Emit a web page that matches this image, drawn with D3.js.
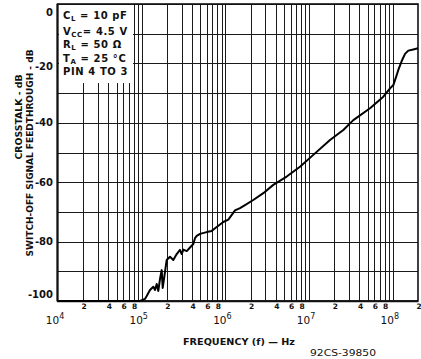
<!DOCTYPE html>
<html><head><meta charset="utf-8">
<script src="https://cdn.jsdelivr.net/npm/d3@7"></script>
<style>
html,body{margin:0;padding:0;background:#fff;}
svg{display:block;}
text{font-family:"DejaVu Sans",sans-serif;fill:#111;}
</style></head>
<body>
<script>
// ---- data ----
const freqHz = [1e4, 9.55e4, 1.094e5, 1.148e5, 1.256e5, 1.377e5, 1.443e5, 1.511e5, 1.579e5, 1.654e5, 1.733e5, 1.782e5, 1.898e5, 1.989e5, 2.178e5, 2.386e5, 2.62e5, 2.868e5, 3.007e5, 3.141e5, 3.449e5, 3.778e5, 4.139e5, 4.337e5, 4.541e5, 4.977e5, 5.984e5, 6.861e5, 7.871e5, 9.441e5, 1.084e6, 1.303e6, 1.494e6, 1.714e6, 2.153e6, 2.837e6, 3.734e6, 5.397e6, 7.781e6, 1.122e7, 1.778e7, 2.564e7, 3.378e7, 5.343e7, 7.709e7, 9.267e7, 1.015e8, 1.114e8, 1.164e8, 1.277e8, 1.4e8, 1.531e8, 1.758e8, 2.0e8];
const feedthroughDb = [-100, -100, -99.3, -98.3, -96.3, -95.2, -96.3, -94.3, -96.6, -92.6, -89.6, -95.6, -90.2, -86.2, -85.1, -86.2, -84.2, -82.8, -84.2, -82.7, -83.2, -82.0, -80.8, -78.8, -78.1, -77.4, -76.8, -76.4, -75.1, -73.4, -72.6, -69.5, -68.7, -67.7, -66.0, -63.7, -60.9, -58.1, -54.8, -50.8, -45.8, -42.4, -39.1, -35.1, -31.2, -28.4, -27.3, -23.9, -22.2, -19.2, -16.8, -15.7, -15.3, -14.9];
const yTickValues = [0, -20, -40, -60, -80, -100];
const yGridValues = [0, -10, -20, -30, -40, -50, -60, -70, -80, -90, -100];
const decadeExponents = [4, 5, 6, 7, 8];
const minorMultipliers = [2, 3, 4, 5, 6, 7, 8, 9];
const minorLabelMultipliers = [2, 4, 6, 8];
const legendLines = [
  [["C", 0], ["L", 1], [" = 10 pF", 0]],
  [["V", 0], ["CC", 1], ["= 4.5 V", 0]],
  [["R", 0], ["L", 1], ["  = 50 Ω", 0]],
  [["T", 0], ["A", 1], ["  = 25 °C", 0]],
  [["PIN 4 TO 3", 0]]
];
const yTitle1 = "CROSSTALK - dB";
const yTitle2 = "SWITCH-OFF SIGNAL FEEDTHROUGH - dB";
const xTitle = "FREQUENCY (f) — Hz";
const figCode = "92CS-39850";

// ---- layout ----
const W = 421, H = 359;
const L = 58, R = 418, T = 4, B = 301;
const x = d3.scaleLog().domain([1e4, 2e8]).range([L, R]);
const y = d3.scaleLinear().domain([0, -100]).range([T, B]);

const svg = d3.select("body").append("svg").attr("width", W).attr("height", H);
svg.append("rect").attr("width", W).attr("height", H).attr("fill", "#fff");

// vertical grid lines
const vLines = [];
decadeExponents.forEach(e => {
  const base = Math.pow(10, e);
  if (e > 4) vLines.push(base);
  if (e < 8) minorMultipliers.forEach(m => vLines.push(m * base));
});
const g = svg.append("g").attr("shape-rendering", "crispEdges");
g.selectAll("line.v").data(vLines).join("line")
  .attr("x1", d => Math.round(x(d)) + 0.5).attr("x2", d => Math.round(x(d)) + 0.5)
  .attr("y1", T).attr("y2", B)
  .attr("stroke", "#1a1a1a").attr("stroke-width", 1);
g.selectAll("line.h").data(yGridValues).join("line")
  .attr("x1", L).attr("x2", R)
  .attr("y1", d => Math.round(y(d)) + 0.5).attr("y2", d => Math.round(y(d)) + 0.5)
  .attr("stroke", "#1a1a1a").attr("stroke-width", 1);

// legend box (white panel over grid)
svg.append("rect").attr("x", L + 1).attr("y", T + 1).attr("width", 74).attr("height", 78).attr("fill", "#fff");

// frame
svg.append("rect").attr("x", L - 0.5).attr("y", T).attr("width", R - L + 0.5).attr("height", B - T)
  .attr("fill", "none").attr("stroke", "#111").attr("stroke-width", 1.6);
svg.append("line").attr("x1", L - 1).attr("x2", R).attr("y1", B + 0.3).attr("y2", B + 0.3)
  .attr("stroke", "#111").attr("stroke-width", 2);
svg.append("line").attr("x1", L - 0.5).attr("x2", L - 0.5).attr("y1", T).attr("y2", B)
  .attr("stroke", "#111").attr("stroke-width", 2);

// curve
const pts = freqHz.map((f, i) => [f, feedthroughDb[i]]);
svg.append("path").datum(pts)
  .attr("d", d3.line().x(d => x(d[0])).y(d => y(d[1])).curve(d3.curveLinear))
  .attr("fill", "none").attr("stroke", "#000").attr("stroke-width", 2).attr("stroke-linejoin", "round");

// y tick labels
const yOff = {"0": 8, "-20": 3, "-100": -7};
svg.selectAll("text.yt").data(yTickValues).join("text")
  .attr("x", 53).attr("y", d => y(d) + (yOff[String(d)] || 0))
  .attr("dy", "0.36em").attr("text-anchor", "end")
  .attr("font-size", 10).attr("font-weight", "bold").text(d => d === 0 ? "0" : "-" + Math.abs(d));

// x minor labels
const minorTicks = [];
decadeExponents.forEach(e => {
  if (e < 8) minorLabelMultipliers.forEach(m => minorTicks.push({v: m * Math.pow(10, e), m}));
});
minorTicks.push({v: 2e8, m: 2});
svg.selectAll("text.xm").data(minorTicks).join("text")
  .attr("x", d => x(d.v) + 1).attr("y", 309).attr("text-anchor", "middle")
  .attr("font-size", 7.5).attr("font-weight", "bold").text(d => d.m);

// decade labels
const dl = svg.selectAll("text.xd").data(decadeExponents).join("text")
  .attr("x", d => x(Math.pow(10, d)) - 3).attr("y", 324).attr("text-anchor", "middle")
  .attr("font-size", 10.5).attr("font-weight", "normal");
dl.append("tspan").text("10");
dl.append("tspan").attr("font-size", 8).attr("dy", -5).text(d => d);

// legend text
const legY = [19, 35, 48, 62, 75];
legendLines.forEach((parts, i) => {
  const t = svg.append("text").attr("x", 63).attr("y", legY[i])
    .attr("font-size", 10).attr("font-weight", "bold").attr("letter-spacing", 0.6);
  let prev = 0;
  parts.forEach(([s, sub]) => {
    const ts = t.append("tspan").text(s);
    if (sub !== prev) ts.attr("dy", sub ? 2 : -2);
    if (sub) ts.attr("font-size", 7);
    prev = sub;
  });
});

// y titles
svg.append("text").attr("transform", "translate(22,117) rotate(-90)")
  .attr("text-anchor", "middle").attr("font-size", 9.5).attr("font-weight", "bold")
  .attr("textLength", 85).attr("lengthAdjust", "spacingAndGlyphs").text(yTitle1);
svg.append("text").attr("transform", "translate(33,153) rotate(-90)")
  .attr("text-anchor", "middle").attr("font-size", 9.5).attr("font-weight", "bold")
  .attr("textLength", 207).attr("lengthAdjust", "spacingAndGlyphs").text(yTitle2);

// x title
svg.append("text").attr("x", 183).attr("y", 345)
  .attr("font-size", 9.5).attr("font-weight", "bold")
  .attr("textLength", 112).attr("lengthAdjust", "spacingAndGlyphs").text(xTitle);

// figure code
svg.append("text").attr("x", 310).attr("y", 356)
  .attr("font-size", 8)
  .attr("textLength", 66).attr("lengthAdjust", "spacingAndGlyphs").text(figCode);
</script>
</body></html>
